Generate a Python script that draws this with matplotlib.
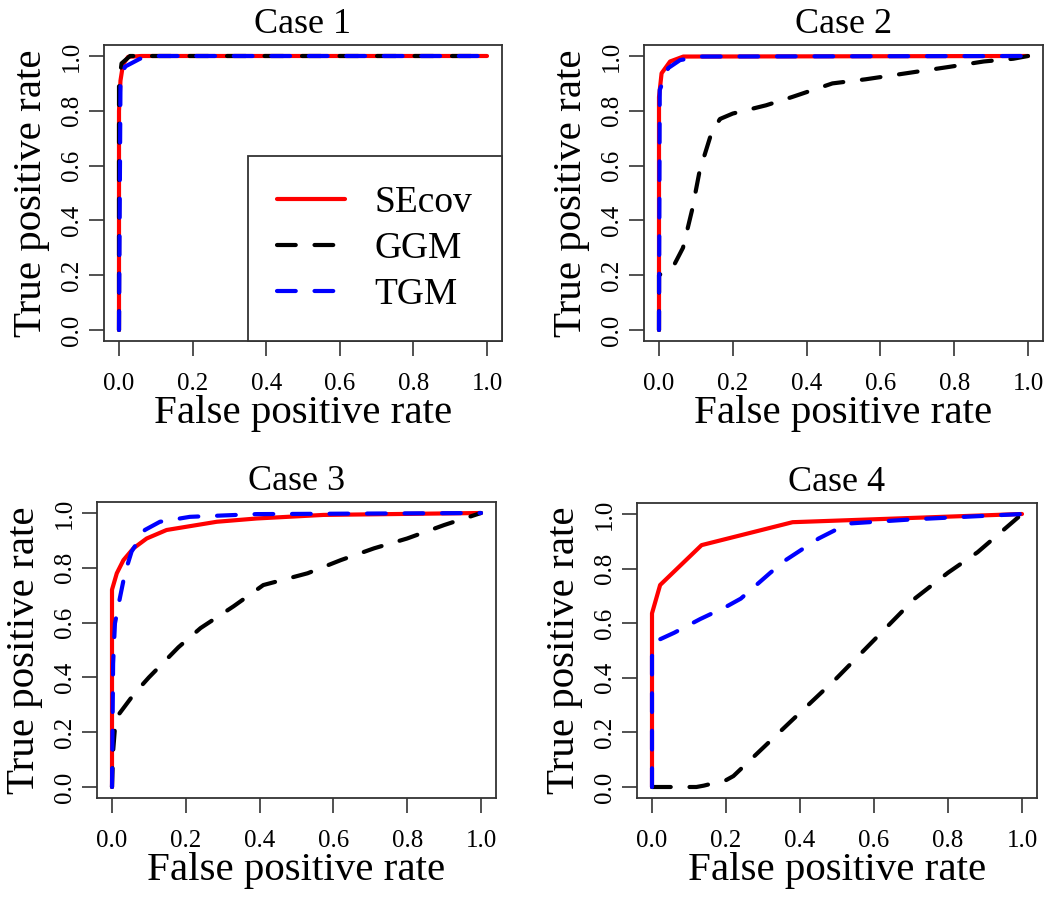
import matplotlib.pyplot as plt

plt.rcParams['font.family'] = ['Liberation Serif', 'DejaVu Serif']

# ROC curves (false positive rate, true positive rate)
case1_secov_x = [0, 0.0, 0.004, 0.011, 0.025, 0.06, 1.0]
case1_secov_y = [0, 0.8, 0.91, 0.97, 0.997, 1.0, 1.0]
case1_ggm_x = [0, 0.0, 0.007, 0.03, 1.0]
case1_ggm_y = [0, 0.9, 0.973, 1.0, 1.0]
case1_tgm_x = [0, 0.004, 0.016, 0.057, 0.1, 1.0]
case1_tgm_y = [0, 0.9, 0.961, 0.99, 1.0, 1.0]

case2_secov_x = [0, 0.0, 0.007, 0.03, 0.066, 1.0]
case2_secov_y = [0, 0.85, 0.937, 0.98, 0.998, 1.0]
case2_ggm_x = [0, 0.0, 0.04, 0.065, 0.09, 0.11, 0.14, 0.165, 0.2, 0.29, 0.36, 0.47, 0.56, 0.67, 0.79, 0.88, 0.96, 1.0]
case2_ggm_y = [0, 0.2, 0.235, 0.3, 0.44, 0.58, 0.71, 0.77, 0.79, 0.82, 0.85, 0.9, 0.915, 0.937, 0.961, 0.98, 0.99, 1.0]
case2_tgm_x = [0, 0.002, 0.025, 0.057, 0.11, 1.0]
case2_tgm_y = [0, 0.876, 0.956, 0.985, 0.998, 1.0]

case3_secov_x = [0, 0.0, 0.013, 0.031, 0.058, 0.094, 0.148, 0.284, 0.392, 0.573, 1.0]
case3_secov_y = [0, 0.72, 0.78, 0.828, 0.871, 0.907, 0.938, 0.968, 0.98, 0.993, 1.0]
case3_ggm_x = [0, 0.003, 0.01, 0.06, 0.1, 0.18, 0.24, 0.33, 0.41, 0.53, 0.62, 0.71, 0.8, 0.9, 1.0]
case3_ggm_y = [0, 0.13, 0.25, 0.34, 0.4, 0.51, 0.58, 0.66, 0.737, 0.78, 0.828, 0.871, 0.907, 0.956, 1.0]
case3_tgm_x = [0, 0.003, 0.008, 0.022, 0.035, 0.053, 0.089, 0.13, 0.211, 0.392, 1.0]
case3_tgm_y = [0, 0.45, 0.597, 0.694, 0.78, 0.859, 0.938, 0.968, 0.986, 0.996, 1.0]

case4_secov_x = [0, 0.0, 0.022, 0.134, 0.38, 1.0]
case4_secov_y = [0, 0.636, 0.74, 0.886, 0.97, 1.0]
case4_ggm_x = [0, 0.12, 0.14, 0.2, 0.22, 0.375, 0.5, 0.71, 0.8, 0.88, 1.0]
case4_ggm_y = [0, 0.0, 0.005, 0.025, 0.04, 0.24, 0.4, 0.69, 0.785, 0.86, 1.0]
case4_tgm_x = [0, 0.0, 0.02, 0.06, 0.13, 0.2, 0.24, 0.32, 0.36, 0.45, 0.53, 0.7, 1.0]
case4_tgm_y = [0, 0.48, 0.54, 0.565, 0.615, 0.66, 0.69, 0.785, 0.83, 0.91, 0.965, 0.98, 1.0]

titles = ['Case 1', 'Case 2', 'Case 3', 'Case 4']
curves = [
    (case1_secov_x, case1_secov_y, case1_ggm_x, case1_ggm_y, case1_tgm_x, case1_tgm_y),
    (case2_secov_x, case2_secov_y, case2_ggm_x, case2_ggm_y, case2_tgm_x, case2_tgm_y),
    (case3_secov_x, case3_secov_y, case3_ggm_x, case3_ggm_y, case3_tgm_x, case3_tgm_y),
    (case4_secov_x, case4_secov_y, case4_ggm_x, case4_ggm_y, case4_tgm_x, case4_tgm_y),
]
ticks = [0.0, 0.2, 0.4, 0.6, 0.8, 1.0]
tick_labels = ['0.0', '0.2', '0.4', '0.6', '0.8', '1.0']

W, H = 1050, 897
# pixel positions of the 0 and 1 ticks in each panel: x0, x1, y0, y1
panel_px = [(119, 487, 330, 56), (659, 1028, 330, 56),
            (112, 481, 787, 513), (652, 1022, 787, 514)]

fig = plt.figure(figsize=(W / 100, H / 100), dpi=100)

lw = 3.0
dash = (0, (4.5, 4.5))

for i in range(4):
    x0, x1, y0, y1 = panel_px[i]
    sx = x1 - x0
    sy = y0 - y1
    left = x0 - 0.04 * sx
    right = x1 + 0.04 * sx
    bottom = y0 + 0.04 * sy
    top = y1 - 0.04 * sy
    ax = fig.add_axes([left / W, (H - bottom) / H, (right - left) / W, (bottom - top) / H])
    sx_, sy_, gx, gy, tx, ty = curves[i]
    ax.plot(sx_, sy_, color='#ff0000', lw=lw, solid_capstyle='round', solid_joinstyle='round', label='SEcov')
    ax.plot(gx, gy, color='black', lw=lw, linestyle=dash, dash_capstyle='round', label='GGM')
    ax.plot(tx, ty, color='#0000ff', lw=lw, linestyle=dash, dash_capstyle='round', label='TGM')
    ax.set_xlim(-0.04, 1.04)
    ax.set_ylim(-0.04, 1.04)
    ax.set_xticks(ticks)
    ax.set_yticks(ticks)
    ax.set_xticklabels(tick_labels)
    ax.set_yticklabels(tick_labels, rotation=90, va='center')
    ax.tick_params(length=10.5, width=1.2, labelsize=18, color='#333333', pad=12.5)
    ax.tick_params(axis='y', pad=5)
    for sp in ax.spines.values():
        sp.set_linewidth(1.3)
        sp.set_color('#333333')
    ax.set_title(titles[i], fontsize=26, pad=9)
    ax.set_xlabel('False positive rate', fontsize=29.5, labelpad=0)
    ax.set_ylabel('True positive rate', fontsize=29.5, labelpad=8)
    if i == 0:
        leg = ax.legend(loc='lower right', borderaxespad=0, fontsize=27, frameon=True,
                        fancybox=False, handlelength=1.8, handletextpad=0.8,
                        borderpad=0.78, labelspacing=0.3)
        leg.get_frame().set_edgecolor('#333333')
        leg.get_frame().set_linewidth(1.3)
        leg.get_frame().set_alpha(1)

fig.savefig('out.png', dpi=100)
